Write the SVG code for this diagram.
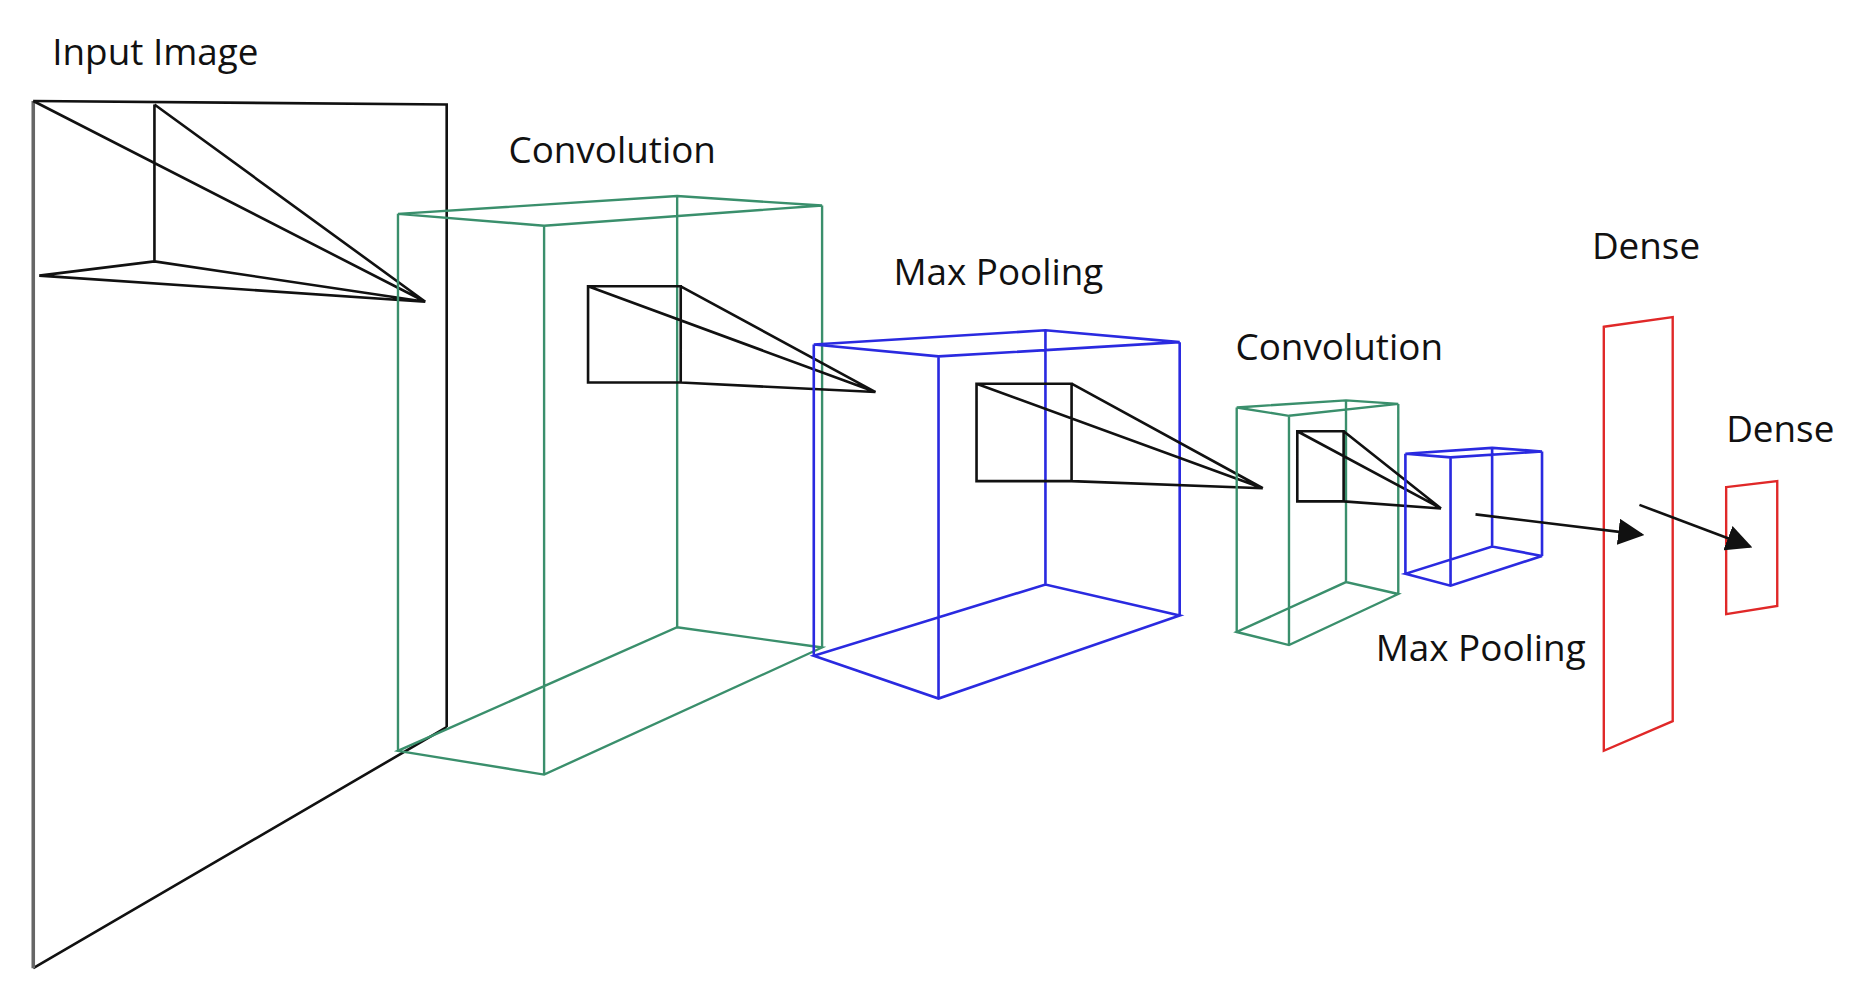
<svg xmlns="http://www.w3.org/2000/svg" width="1853" height="986" viewBox="0 0 1853 986">
<style>
.k{fill:none;stroke:#111;stroke-width:2.2}
.g{fill:none;stroke:#3a8f6c;stroke-width:2}
.b{fill:none;stroke:#2a2ae0;stroke-width:2.2}
.r{fill:none;stroke:#e02828;stroke-width:2}
.t{font-family:"Open Sans","Liberation Sans",sans-serif;font-size:31px;fill:#111}
</style>
<defs><marker id="ah" viewBox="0 0 10 10" refX="9" refY="5" markerWidth="9" markerHeight="9" orient="auto" markerUnits="userSpaceOnUse"><path d="M0,0L10,5L0,10z" fill="#111"/></marker>
<marker id="ah2" viewBox="0 0 10 10" refX="9" refY="5" markerWidth="22" markerHeight="22" orient="auto" markerUnits="userSpaceOnUse"><path d="M0,0L10,5L0,10z" fill="#111"/></marker></defs>
<rect width="1853" height="986" fill="#fff"/>
<g transform="scale(1.188)">
<g id="input">
<path class="k" d="M28,85L376,88L376,612M28,815L376,612"/>
<path d="M28,85L28,815" fill="none" stroke="#666" stroke-width="3"/>
<path class="k" d="M130,88L130,220M28,85L358,254M130,88L358,254M33,232L130,220L358,254L33,232"/>
<text class="t" x="44" y="55">Input Image</text>
</g>
<g id="conv1">
<path class="g" d="M335,180L570,165L692,173L458,190Z M335,632L458,652L692,545L570,528Z M335,180V632 M458,190V652 M570,165V528 M692,173V545"/>
<path class="k" d="M495,241H573V322H495Z M495,241L737,330 M573,241L737,330 M573,322L737,330"/>
<text class="t" x="428" y="137">Convolution</text>
</g>
<g id="pool1">
<path class="b" d="M685,290L880,278L993,288L790,300Z M685,552L790,588L993,518L880,492Z M685,290V552 M790,300V588 M880,278V492 M993,288V518"/>
<path class="k" d="M822,323H902V405H822Z M822,323L1063,411 M902,323L1063,411 M902,405L1063,411"/>
<text class="t" x="752" y="240">Max Pooling</text>
</g>
<g id="conv2">
<path class="g" d="M1041,343L1133,337L1177,340L1085,350Z M1041,532L1085,543L1177,500L1133,490Z M1041,343V532 M1085,350V543 M1133,337V490 M1177,340V500"/>
<path class="k" d="M1092,363H1131V422H1092Z M1092,363L1213,428 M1131,363L1213,428 M1131,422L1213,428"/>
<text class="t" x="1040" y="303">Convolution</text>
</g>
<g id="pool2">
<path class="b" d="M1183,382L1256,377L1298,380L1221,385Z M1183,483L1221,493L1298,468L1256,460Z M1183,382V483 M1221,385V493 M1256,377V460 M1298,380V468"/>
<text class="t" x="1158" y="556">Max Pooling</text>
</g>
<g id="dense1">
<path class="r" d="M1350,275L1408,267L1408,607L1350,632Z"/>
<text class="t" x="1340" y="218">Dense</text>
</g>
<g id="dense2">
<path class="r" d="M1453,410L1496,405L1496,510L1453,517Z"/>
<text class="t" x="1453" y="372">Dense</text>
</g>
<g id="connectors">
<path class="k" d="M1242,433L1382,450" marker-end="url(#ah2)"/>
<path class="k" d="M1380,425L1473,460" marker-end="url(#ah2)"/>
</g>
</g>
</svg>
